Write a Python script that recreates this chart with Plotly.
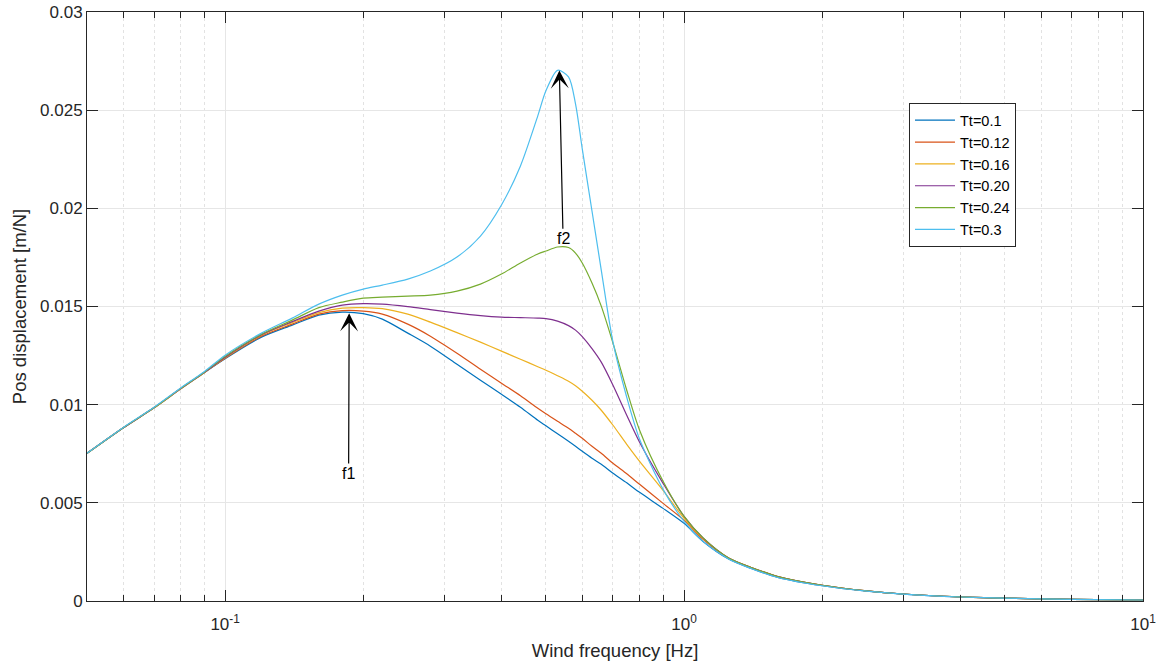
import math
import plotly.graph_objects as go

# Frequency grid [Hz] shared by all transfer curves
freq_hz = [0.05, 0.06, 0.07, 0.08, 0.09, 0.1, 0.12, 0.14, 0.16, 0.18, 0.2, 0.22,
           0.25, 0.28, 0.32, 0.36, 0.4, 0.44, 0.48, 0.5, 0.53, 0.56, 0.58, 0.6,
           0.63, 0.66, 0.7, 0.75, 0.8, 0.9, 1.0, 1.1, 1.25, 1.4, 1.6, 2.0, 2.5,
           3.0, 4.0, 5.0, 7.0, 10.0]

# Position displacement [m/N] for each Tt setting
disp_tt_010 = [0.00752, 0.00882, 0.00984, 0.01081, 0.01163, 0.012342, 0.013439, 0.014051,
               0.014561, 0.014714, 0.014637, 0.014357, 0.013643, 0.01298, 0.012062, 0.011246,
               0.010532, 0.009869, 0.009206, 0.008925, 0.008517, 0.008135, 0.00788, 0.007625,
               0.007268, 0.006962, 0.006503, 0.006018, 0.005534, 0.004718, 0.003953, 0.003035,
               0.002142, 0.001658, 0.001199, 0.000775, 0.0005, 0.000347, 0.000204, 0.000143,
               0.000082, 0.000051]
disp_tt_012 = [0.00752, 0.00882, 0.00984, 0.01081, 0.01163, 0.012368, 0.01349, 0.014102,
               0.014612, 0.01479, 0.014765, 0.014612, 0.014102, 0.01349, 0.012623, 0.011807,
               0.011093, 0.010455, 0.009818, 0.009537, 0.009155, 0.008798, 0.008543, 0.008288,
               0.00788, 0.007523, 0.007013, 0.006477, 0.005942, 0.004973, 0.004106, 0.003137,
               0.002193, 0.001709, 0.00125, 0.000801, 0.000515, 0.000357, 0.00021, 0.000147,
               0.000084, 0.000052]
disp_tt_016 = [0.00752, 0.00882, 0.00984, 0.01081, 0.01163, 0.012393, 0.013541, 0.014178,
               0.014688, 0.014918, 0.014943, 0.014892, 0.014612, 0.014204, 0.013668, 0.013184,
               0.012725, 0.012317, 0.011934, 0.011756, 0.011475, 0.011195, 0.010965, 0.010685,
               0.010226, 0.009716, 0.008951, 0.007982, 0.007115, 0.005636, 0.004208, 0.003188,
               0.002193, 0.001709, 0.00125, 0.000801, 0.000515, 0.000357, 0.00021, 0.000147,
               0.000084, 0.000052]
disp_tt_020 = [0.00752, 0.00882, 0.00985, 0.01082, 0.01164, 0.012419, 0.013566, 0.014229,
               0.014765, 0.015071, 0.015147, 0.015122, 0.014994, 0.014841, 0.014663, 0.014535,
               0.014459, 0.014433, 0.014408, 0.014382, 0.014255, 0.014025, 0.013796, 0.013464,
               0.012852, 0.012164, 0.010991, 0.009461, 0.008084, 0.005993, 0.00431, 0.003213,
               0.002193, 0.001709, 0.00125, 0.000801, 0.000515, 0.000357, 0.00021, 0.000147,
               0.000084, 0.000052]
disp_tt_024 = [0.00752, 0.00883, 0.00985, 0.01083, 0.01165, 0.01247, 0.013592, 0.014306,
               0.014943, 0.015224, 0.015428, 0.015479, 0.01553, 0.015581, 0.015785, 0.016142,
               0.016652, 0.017213, 0.017672, 0.017825, 0.018029, 0.018003, 0.017723, 0.017213,
               0.016193, 0.01502, 0.013133, 0.010736, 0.008696, 0.006095, 0.00431, 0.003213,
               0.002193, 0.001709, 0.00125, 0.000801, 0.000515, 0.000357, 0.00021, 0.000147,
               0.000084, 0.000052]
disp_tt_030 = [0.00753, 0.00884, 0.00987, 0.01085, 0.01168, 0.012521, 0.013643, 0.014408,
               0.015122, 0.015581, 0.015887, 0.016091, 0.016397, 0.016805, 0.017519, 0.01859,
               0.020171, 0.02216, 0.02471, 0.025985, 0.02703, 0.026699, 0.025322, 0.023027,
               0.019865, 0.016856, 0.013184, 0.010379, 0.008237, 0.005687, 0.004055, 0.003035,
               0.002142, 0.001658, 0.001199, 0.000775, 0.0005, 0.000347, 0.000204, 0.000143,
               0.000082, 0.000051]

series_names = ["Tt=0.1", "Tt=0.12", "Tt=0.16", "Tt=0.20", "Tt=0.24", "Tt=0.3"]
series_values = [disp_tt_010, disp_tt_012, disp_tt_016, disp_tt_020, disp_tt_024, disp_tt_030]
series_colors = ["#0072BD", "#D95319", "#EDB120", "#7E2F8E", "#77AC30", "#4DBEEE"]

# Axis ticks
x_major = [0.1, 1, 10]
x_major_text = ["10<sup>-1</sup>", "10<sup>0</sup>", "10<sup>1</sup>"]
x_minor = [0.06, 0.07, 0.08, 0.09, 0.2, 0.3, 0.4, 0.5, 0.6, 0.7, 0.8, 0.9,
           2, 3, 4, 5, 6, 7, 8, 9]
y_ticks = [0, 0.005, 0.01, 0.015, 0.02, 0.025, 0.03]
y_tick_text = ["0", "0.005", "0.01", "0.015", "0.02", "0.025", "0.03"]

# Resonance markers: label, tip (freq, value), label anchor (freq, value)
peak_labels = ["f1", "f2"]
peak_tip_freq = [0.1863, 0.5348]
peak_tip_val = [0.01465, 0.02702]
peak_label_freq = [0.1858, 0.5450]
peak_label_val = [0.00650, 0.01845]

FONT = "Liberation Sans, Arial, Helvetica, sans-serif"
AX_COLOR = "#262626"

fig = go.Figure()
for name, vals, col in zip(series_names, series_values, series_colors):
    fig.add_trace(go.Scatter(x=freq_hz, y=vals, mode="lines", name=name,
                             line=dict(color=col, width=1.2, shape="spline",
                                       smoothing=0.8)))

for lab, tf, tv, lf, lv in zip(peak_labels, peak_tip_freq, peak_tip_val,
                               peak_label_freq, peak_label_val):
    fig.add_annotation(x=math.log10(tf), y=tv, ax=math.log10(lf), ay=lv,
                       xref="x", yref="y", axref="x", ayref="y",
                       text=lab, showarrow=True, arrowhead=3, arrowsize=2.5,
                       arrowwidth=1.2, arrowcolor="black", standoff=0,
                       font=dict(family=FONT, size=16, color="black"))

fig.update_layout(
    width=1163, height=667,
    margin=dict(l=87, r=20, t=12, b=66, autoexpand=False),
    paper_bgcolor="white", plot_bgcolor="white",
    font=dict(family=FONT, color=AX_COLOR),
    showlegend=True,
    legend=dict(x=0.7784, y=0.845, xanchor="left", yanchor="top",
                bgcolor="white", bordercolor=AX_COLOR, borderwidth=1,
                font=dict(family=FONT, size=14.5, color="black"),
                tracegroupgap=0, itemwidth=40),
)

fig.update_xaxes(
    type="log", range=[math.log10(0.05), 1], automargin=False,
    tickmode="array", tickvals=x_major, ticktext=x_major_text,
    ticks="inside", ticklen=11, tickwidth=1, tickcolor=AX_COLOR,
    ticklabelstandoff=8,
    tickfont=dict(family=FONT, size=17, color=AX_COLOR),
    showline=True, linecolor=AX_COLOR, linewidth=1, mirror="ticks",
    showgrid=True, gridcolor="#e6e6e6", gridwidth=1.3, zeroline=False,
    minor=dict(tickmode="array", tickvals=x_minor, ticks="inside", ticklen=6,
               tickwidth=1, tickcolor=AX_COLOR, showgrid=True,
               gridcolor="#e2e2e2", griddash="dot", gridwidth=1),
    title=dict(text="Wind frequency [Hz]",
               font=dict(family=FONT, size=18.5, color=AX_COLOR), standoff=10),
)
fig.update_yaxes(
    range=[0, 0.03], automargin=False,
    tickmode="array", tickvals=y_ticks, ticktext=y_tick_text,
    ticks="inside", ticklen=11, tickwidth=1, tickcolor=AX_COLOR,
    tickfont=dict(family=FONT, size=17, color=AX_COLOR),
    showline=True, linecolor=AX_COLOR, linewidth=1, mirror="ticks",
    showgrid=True, gridcolor="#e6e6e6", gridwidth=1.3, zeroline=False,
    title=dict(text="Pos displacement [m/N]",
               font=dict(family=FONT, size=18.5, color=AX_COLOR), standoff=8),
)

fig.write_html("out.html")
